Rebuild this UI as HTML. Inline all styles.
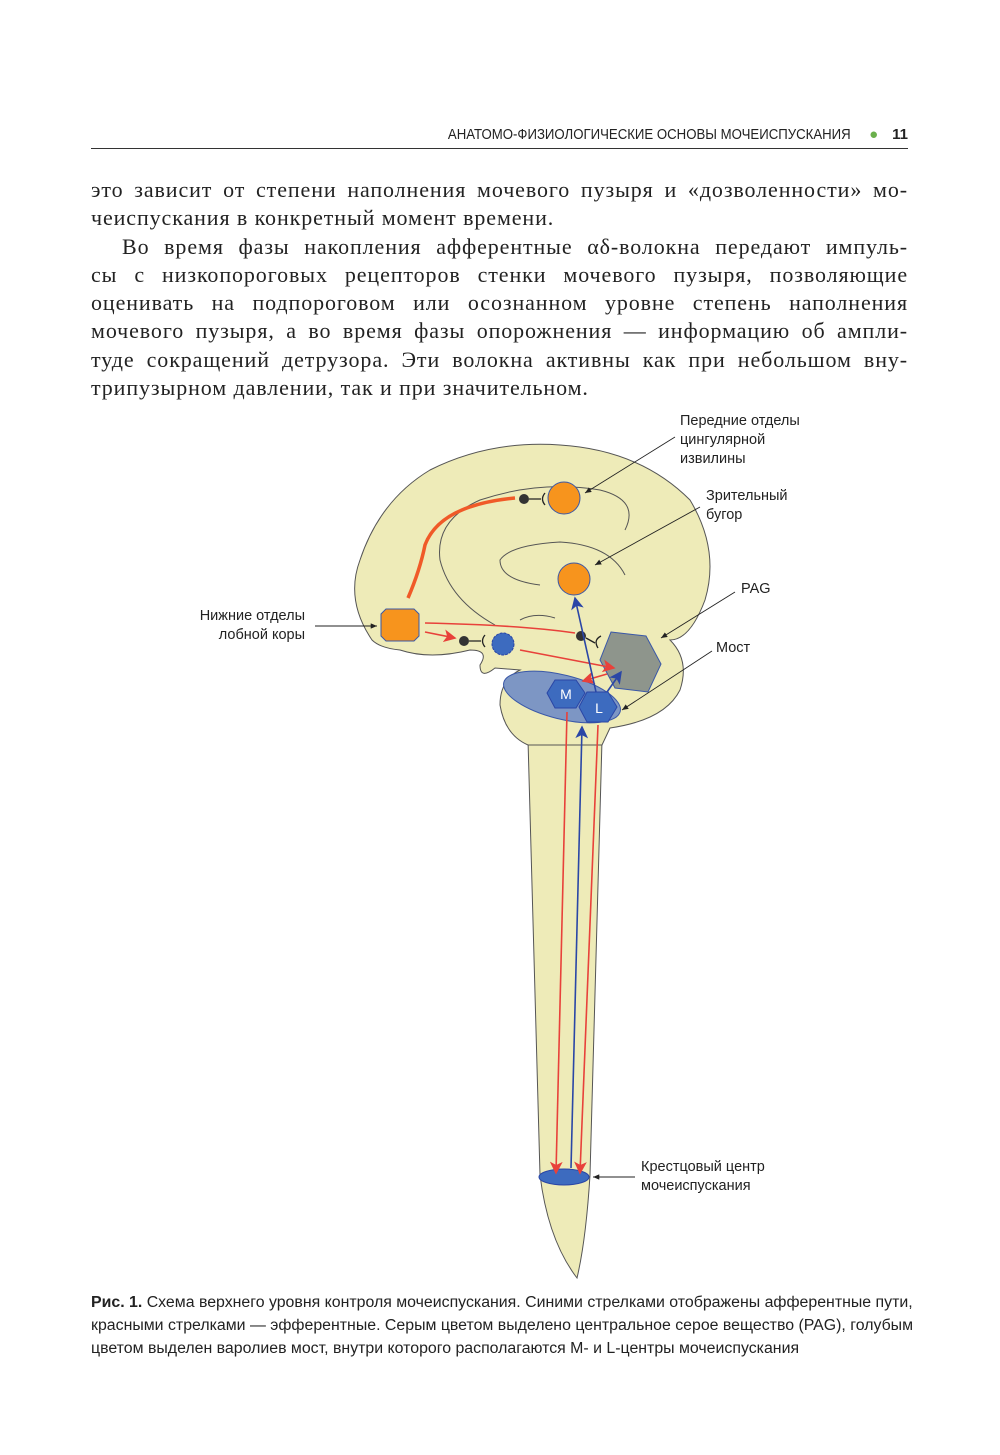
<!DOCTYPE html>
<html><head><meta charset="utf-8"><style>
body{margin:0;background:#fff;}
.pg{position:relative;width:1000px;height:1455px;overflow:hidden;}
.hdr{position:absolute;left:91px;top:126px;width:817px;border-bottom:1px solid #333;height:22px;font-family:"Liberation Sans",sans-serif;font-size:15px;text-align:right;color:#222;}
.hdr span.t{transform:scaleX(0.88);display:inline-block;transform-origin:right;margin-left:-60px}
.body{position:absolute;left:91px;top:176px;width:817px;font-family:"Liberation Serif",serif;font-size:22px;line-height:28.3px;color:#222;letter-spacing:0.9px;}
.body div{text-align:justify;text-align-last:justify;white-space:nowrap;height:28.3px;}
.body div.l{text-align-last:left;}
.lab{position:absolute;font-family:"Liberation Sans",sans-serif;font-size:14.5px;line-height:19px;color:#222;}
.cap{position:absolute;left:91px;top:1291px;font-family:"Liberation Sans",sans-serif;font-size:15.5px;line-height:23px;color:#222;transform:scaleX(1.025);transform-origin:left;width:900px;white-space:nowrap;}
</style></head><body><div class="pg">
<div class="hdr"><span class="t">АНАТОМО-ФИЗИОЛОГИЧЕСКИЕ ОСНОВЫ МОЧЕИСПУСКАНИЯ</span> <span style="color:#6ab04c;margin:0 14px">●</span><b>11</b></div>
<div class="body">
<div>это зависит от степени наполнения мочевого пузыря и «дозволенности» мо-</div>
<div class="l">чеиспускания в конкретный момент времени.</div>
<div style="padding-left:31px">Во время фазы накопления афферентные αδ-волокна передают импуль-</div>
<div>сы с низкопороговых рецепторов стенки мочевого пузыря, позволяющие</div>
<div>оценивать на подпороговом или осознанном уровне степень наполнения</div>
<div>мочевого пузыря, а во время фазы опорожнения — информацию об ампли-</div>
<div>туде сокращений детрузора. Эти волокна активны как при небольшом вну-</div>
<div class="l">трипузырном давлении, так и при значительном.</div>
</div>

<svg style="position:absolute;left:0;top:0" width="1000" height="1455">
<defs>
<marker id="ar" markerWidth="8" markerHeight="8" refX="7" refY="4" orient="auto"><path d="M0,0L8,4L0,8L2,4z" fill="#e8413a"/></marker>
<marker id="ab" markerWidth="8" markerHeight="8" refX="7" refY="4" orient="auto"><path d="M0,0L8,4L0,8L2,4z" fill="#2a46a6"/></marker>
<marker id="ak" markerWidth="7" markerHeight="6" refX="7" refY="3" orient="auto"><path d="M0,0L7,3L0,6z" fill="#222"/></marker>
</defs>
<g fill="#eeebb8" stroke="#555" stroke-width="1">
<path d="M528,740 L540,1175 Q548,1240 577,1278 Q586,1240 590,1175 L602,740 Z"/>
<path d="M372,640 Q345,600 360,560 Q380,500 430,470 Q490,440 560,445 Q640,450 690,500 Q720,550 705,600 Q690,640 670,640 Q690,660 680,690 Q665,720 610,728 L602,745 L528,745 Q505,735 500,705 Q500,680 520,670 L495,668 Q480,680 480,665 Q490,650 470,650 Q430,660 400,650 Q380,648 372,640Z"/>
</g>
<g fill="none" stroke="#555" stroke-width="1">
<path d="M495,625 Q450,600 440,560 Q435,520 480,500 Q540,480 600,490 Q640,500 625,530"/>
<path d="M540,585 Q500,580 500,560 Q510,545 560,542 Q610,545 625,575"/>
<path d="M520,620 Q535,612 555,618"/>
</g>
<ellipse cx="562" cy="697" rx="60" ry="22" transform="rotate(14 562 697)" fill="#7d96c4" stroke="#3a58a8"/>
<polygon points="611,632 646,636 661,664 648,692 615,688 600,660" fill="#8e958c" stroke="#3a58a8"/>
<circle cx="564" cy="498" r="16" fill="#f7941d" stroke="#3a58a8"/>
<circle cx="574" cy="579" r="16" fill="#f7941d" stroke="#3a58a8"/>
<path d="M386,609 L414,609 L419,614 L419,636 L414,641 L386,641 L381,636 L381,614Z" fill="#f7941d" stroke="#3a58a8"/>
<circle cx="503" cy="644" r="11" fill="#3d6bbf" stroke="#2a46a6" stroke-dasharray="3 1"/>
<polygon points="555,680 576,680 585,693 576,708 555,708 547,693" fill="#3d6bbf" stroke="#2a46a6"/>
<polygon points="587,692 608,692 617,707 608,722 587,722 579,707" fill="#3d6bbf" stroke="#2a46a6"/>
<text x="566" y="699" font-family="Liberation Sans" font-size="14" fill="#fff" text-anchor="middle">M</text>
<text x="599" y="713" font-family="Liberation Sans" font-size="14" fill="#fff" text-anchor="middle">L</text>
<ellipse cx="564" cy="1177" rx="25" ry="8" fill="#3d6bbf" stroke="#2a46a6"/>
<path d="M408,598 Q420,570 425,545 Q440,505 515,498" fill="none" stroke="#f05a28" stroke-width="3.5"/>
<circle cx="524" cy="499" r="5" fill="#333"/><path d="M529,499H541M545,493Q540,499 545,505" fill="none" stroke="#222" stroke-width="1.3"/>
<circle cx="464" cy="641" r="5" fill="#333"/><path d="M469,641H481M485,635Q480,641 485,647" fill="none" stroke="#222" stroke-width="1.3"/>
<circle cx="581" cy="636" r="5" fill="#333"/><path d="M586,638L595,643M601,636Q593,640 598,648" fill="none" stroke="#222" stroke-width="1.3"/>
<g stroke="#e8413a" stroke-width="1.6" fill="none">
<path d="M425,623 Q520,625 575,633"/>
<path d="M425,632 L455,638" marker-end="url(#ar)"/>
<path d="M520,650 L614,668" marker-end="url(#ar)"/>
<path d="M607,674 L583,681" marker-end="url(#ar)"/>
<path d="M567,712 L556,1173" marker-end="url(#ar)"/>
<path d="M598,725 L580,1173" marker-end="url(#ar)"/>
</g>
<g stroke="#2a46a6" stroke-width="1.6" fill="none">
<path d="M596,692 L575,598" marker-end="url(#ab)"/>
<path d="M607,692 L621,672" marker-end="url(#ab)"/>
<path d="M571,1168 L582,727" marker-end="url(#ab)"/>
</g>
<g stroke="#222" stroke-width="0.9" fill="none">
<path d="M675,437 L585,493" marker-end="url(#ak)"/>
<path d="M700,507 L595,565" marker-end="url(#ak)"/>
<path d="M735,592 L661,638" marker-end="url(#ak)"/>
<path d="M712,651 L622,710" marker-end="url(#ak)"/>
<path d="M315,626 L377,626" marker-end="url(#ak)"/>
<path d="M635,1177 L593,1177" marker-end="url(#ak)"/>
</g>
</svg>
<div class="lab" style="left:680px;top:412px">Передние отделы<br>цингулярной<br>извилины</div>
<div class="lab" style="left:706px;top:487px">Зрительный<br>бугор</div>
<div class="lab" style="left:741px;top:580px">PAG</div>
<div class="lab" style="left:716px;top:639px">Мост</div>
<div class="lab" style="left:180px;top:607px;width:125px;text-align:right">Нижние отделы<br>лобной коры</div>
<div class="lab" style="left:641px;top:1158px">Крестцовый центр<br>мочеиспускания</div>
<div class="cap"><b>Рис. 1.</b> Схема верхнего уровня контроля мочеиспускания. Синими стрелками отображены афферентные пути,<br>красными стрелками — эфферентные. Серым цветом выделено центральное серое вещество (PAG), голубым<br>цветом выделен варолиев мост, внутри которого располагаются M- и L-центры мочеиспускания</div>
</div></body></html>
